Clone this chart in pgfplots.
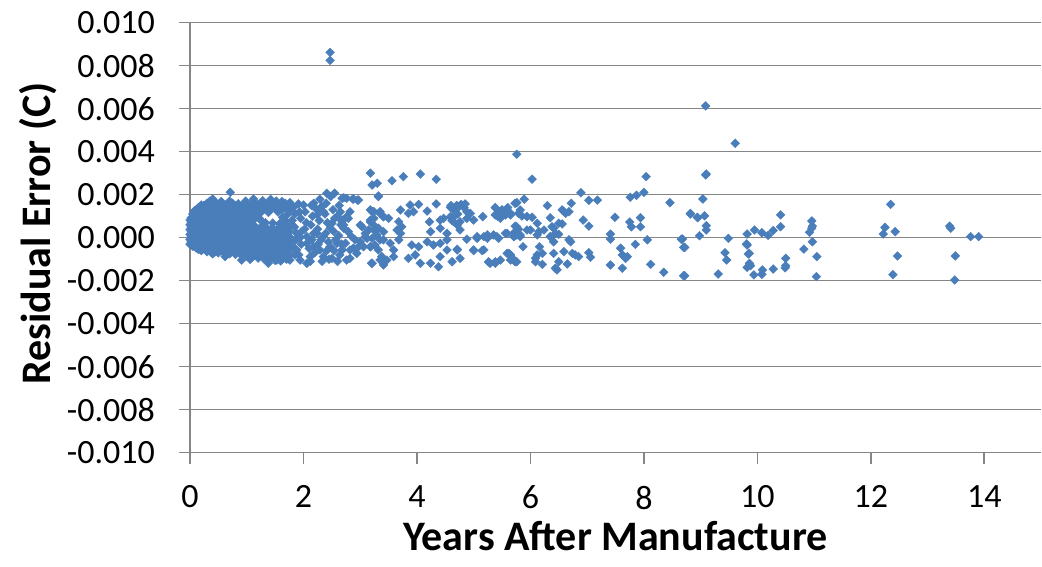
\documentclass[border=0pt]{standalone}
\usepackage{fontspec}
\setmainfont{Carlito}
\usepackage{pgfplots}
\pgfplotsset{compat=1.18}
\definecolor{gridgray}{RGB}{134,134,134}
\definecolor{markblue}{RGB}{74,126,187}
\newcommand\tickfont{\fontsize{34pt}{37pt}\selectfont}
\newcommand\labelfont{\fontsize{42pt}{46pt}\selectfont\bfseries}
\pgfplotsset{resid/.style={only marks, mark=square*, mark size=3.1pt,
  mark options={rotate=45, draw=markblue, fill=markblue, line width=0.4pt}}}
\begin{document}
\begin{tikzpicture}
\useasboundingbox (0,0) rectangle (1042pt,567pt);
\begin{axis}[
  at={(190pt,114.3pt)}, anchor=south west,
  scale only axis, width=851pt, height=430pt,
  xmin=0, xmax=15, ymin=-0.01, ymax=0.01,
  clip=false,
  axis x line=bottom, axis y line=left,
  axis line style={-, draw=gridgray, line width=1.6pt},
  xtick={0,2,4,6,8,10,12,14},
  xticklabels={0,2,4,6,8,10,12,14},
  ytick={-0.01,-0.008,-0.006,-0.004,-0.002,0,0.002,0.004,0.006,0.008,0.01},
  yticklabels={-0.010,-0.008,-0.006,-0.004,-0.002,0.000,0.002,0.004,0.006,0.008,0.010},
  scaled y ticks=false, scaled x ticks=false,
  tick align=outside, major tick length=11pt,
  tick style={draw=gridgray, line width=1.6pt},
  ymajorgrids, major grid style={draw=gridgray, line width=1.6pt},
  ticklabel style={font=\tickfont, inner sep=0pt},
  yticklabel style={anchor=east},
  xticklabel style={anchor=north},
  yticklabel shift=24pt, xticklabel shift=22pt,
  xlabel={Years After Manufacture},
  ylabel={Residual Error (C)},
  xlabel style={font=\labelfont, at={(axis description cs:0.5,-0.2263)}, anchor=base},
  ylabel style={font=\labelfont, at={(axis description cs:-0.1645,0.51)}, anchor=base},
]
% dense cluster of young units
\addplot[resid] coordinates {
(0.00,-0.0003)(0.00,-0.00008)(0.00,0.00015)(0.00,0.00038)(0.00,0.0006)(0.00,0.00082)
(0.02,-0.0002)(0.02,0.00003)(0.02,0.00027)(0.02,0.0005)(0.02,0.00072)(0.02,0.00092)
(0.05,-0.0004)(0.05,-0.00018)(0.05,0.00005)(0.05,0.00028)(0.05,0.0005)(0.05,0.00073)(0.05,0.00095)(0.05,0.0011)
(0.08,-0.00028)(0.08,-0.00005)(0.08,0.00018)(0.08,0.0004)(0.08,0.00063)(0.08,0.00085)(0.08,0.00108)(0.08,0.00125)
(0.11,-0.00048)(0.11,-0.00025)(0.11,-0.00002)(0.11,0.0002)(0.11,0.00043)(0.11,0.00066)(0.11,0.00088)(0.11,0.0011)(0.11,0.0013)
(0.15,-0.00055)(0.15,-0.00035)(0.15,-0.00012)(0.15,0.0001)(0.15,0.00033)(0.15,0.00055)(0.15,0.00078)(0.15,0.001)(0.15,0.00122)(0.15,0.0014)
(0.20,-0.0006)(0.20,-0.0004)(0.20,-0.0002)(0.20,0.00002)(0.20,0.00025)(0.20,0.00047)(0.20,0.0007)(0.20,0.00092)(0.20,0.00115)(0.20,0.00137)(0.20,0.00152)
(0.25,-0.00052)(0.25,-0.0003)(0.25,-0.00008)(0.25,0.00015)(0.25,0.00037)(0.25,0.0006)(0.25,0.00082)(0.25,0.00105)(0.25,0.00127)(0.25,0.0015)
(0.30,-0.00065)(0.30,-0.00042)(0.30,-0.0002)(0.30,0.00003)(0.30,0.00025)(0.30,0.00048)(0.30,0.0007)(0.30,0.00093)(0.30,0.00115)(0.30,0.00138)(0.30,0.0016)
(0.35,-0.00058)(0.35,-0.00035)(0.35,-0.00012)(0.35,0.0001)(0.35,0.00033)(0.35,0.00055)(0.35,0.00078)(0.35,0.001)(0.35,0.00123)(0.35,0.00145)(0.35,0.0017)
(0.40,-0.00075)(0.40,-0.0005)(0.40,-0.00028)(0.40,-0.00005)(0.40,0.00018)(0.40,0.0004)(0.40,0.00063)(0.40,0.00085)(0.40,0.00108)(0.40,0.0013)(0.40,0.00153)(0.40,0.0018)
(0.45,-0.00065)(0.45,-0.0004)(0.45,-0.00018)(0.45,0.00005)(0.45,0.00028)(0.45,0.0005)(0.45,0.00073)(0.45,0.00095)(0.45,0.00118)(0.45,0.0014)(0.45,0.00165)
(0.50,-0.0007)(0.50,-0.00048)(0.50,-0.00025)(0.50,-0.00002)(0.50,0.0002)(0.50,0.00043)(0.50,0.00065)(0.50,0.00088)(0.50,0.0011)(0.50,0.00133)(0.50,0.00155)
(0.55,-0.0006)(0.55,-0.00035)(0.55,-0.00012)(0.55,0.0001)(0.55,0.00033)(0.55,0.00055)(0.55,0.00078)(0.55,0.001)(0.55,0.00123)(0.55,0.00145)(0.55,0.00168)
(0.60,-0.00068)(0.60,-0.00045)(0.60,-0.00022)(0.60,0.0)(0.60,0.00023)(0.60,0.00045)(0.60,0.00068)(0.60,0.0009)(0.60,0.00113)(0.60,0.00135)(0.60,0.00155)
(0.65,-0.00055)(0.65,-0.00032)(0.65,-0.0001)(0.65,0.00013)(0.65,0.00035)(0.65,0.00058)(0.65,0.0008)(0.65,0.00103)(0.65,0.00125)(0.65,0.00148)
(0.70,-0.00075)(0.70,-0.00052)(0.70,-0.0003)(0.70,-0.00007)(0.70,0.00015)(0.70,0.00038)(0.70,0.0006)(0.70,0.00083)(0.70,0.00105)(0.70,0.00128)(0.70,0.0015)(0.70,0.0017)
(0.75,-0.00062)(0.75,-0.0004)(0.75,-0.00017)(0.75,0.00005)(0.75,0.00028)(0.75,0.0005)(0.75,0.00073)(0.75,0.00095)(0.75,0.00118)(0.75,0.0014)(0.75,0.0016)
(0.80,-0.00078)(0.80,-0.00055)(0.80,-0.00033)(0.80,-0.0001)(0.80,0.00012)(0.80,0.00035)(0.80,0.00057)(0.80,0.0008)(0.80,0.00102)(0.80,0.00125)(0.80,0.00147)
(0.85,-0.00065)(0.85,-0.00042)(0.85,-0.0002)(0.85,0.00003)(0.85,0.00025)(0.85,0.00048)(0.85,0.0007)(0.85,0.00093)(0.85,0.00115)(0.85,0.00138)(0.85,0.00158)
(0.90,-0.0008)(0.90,-0.00058)(0.90,-0.00035)(0.90,-0.00013)(0.90,0.0001)(0.90,0.00032)(0.90,0.00055)(0.90,0.00077)(0.90,0.001)(0.90,0.00122)(0.90,0.00145)
(0.95,-0.00068)(0.95,-0.00045)(0.95,-0.00022)(0.95,0.0)(0.95,0.00023)(0.95,0.00045)(0.95,0.00068)(0.95,0.0009)(0.95,0.00113)(0.95,0.00135)(0.95,0.00155)
(1.00,-0.00085)(1.00,-0.00062)(1.00,-0.0004)(1.00,-0.00017)(1.00,0.00005)(1.00,0.00028)(1.00,0.0005)(1.00,0.00073)(1.00,0.00095)(1.00,0.00118)(1.00,0.0014)
(1.05,-0.00072)(1.05,-0.0005)(1.05,-0.00027)(1.05,-0.00005)(1.05,0.00018)(1.05,0.0004)(1.05,0.00063)(1.05,0.00085)(1.05,0.0013)(1.05,0.00152)
(1.10,-0.0009)(1.10,-0.00068)(1.10,-0.00045)(1.10,-0.00023)(1.10,0.0)(1.10,0.00022)(1.10,0.00045)(1.10,0.00062)(1.10,0.00132)(1.10,0.00152)(1.10,0.0016)
(1.15,-0.00078)(1.15,-0.00055)(1.15,-0.00033)(1.15,-0.0001)(1.15,0.00012)(1.15,0.00035)(1.15,0.00052)(1.15,0.00138)(1.15,0.00158)
(1.20,-0.00095)(1.20,-0.00072)(1.20,-0.0005)(1.20,-0.00027)(1.20,-0.00005)(1.20,0.00018)(1.20,0.0004)(1.20,0.00135)(1.20,0.00155)
(1.25,-0.00082)(1.25,-0.0006)(1.25,-0.00037)(1.25,-0.00015)(1.25,0.00008)(1.25,0.0003)(1.25,0.00048)(1.25,0.0014)(1.25,0.0016)
(1.30,-0.00098)(1.30,-0.00075)(1.30,-0.00053)(1.30,-0.0003)(1.30,-0.00008)(1.30,0.00015)(1.30,0.00037)(1.30,0.00135)(1.30,0.0015)
(1.35,-0.00085)(1.35,-0.00062)(1.35,-0.0004)(1.35,-0.00017)(1.35,0.00005)(1.35,0.00028)(1.35,0.00045)(1.35,0.0014)(1.35,0.00155)
(1.40,-0.001)(1.40,-0.00078)(1.40,-0.00055)(1.40,-0.00033)(1.40,-0.0001)(1.40,0.00012)(1.40,0.00035)(1.40,0.00138)(1.40,0.00152)
(1.45,-0.00088)(1.45,-0.00065)(1.45,-0.00043)(1.45,-0.0002)(1.45,0.00003)(1.45,0.00025)(1.45,0.00045)(1.45,0.0014)(1.45,0.00158)
(1.50,-0.00105)(1.50,-0.00082)(1.50,-0.0006)(1.50,-0.00037)(1.50,-0.00015)(1.50,0.00008)(1.50,0.0003)(1.50,0.00135)(1.50,0.0015)
(1.55,-0.0009)(1.55,-0.00068)(1.55,-0.00045)(1.55,-0.00023)(1.55,0.0)(1.55,0.00022)(1.55,0.00042)(1.55,0.0014)
(1.60,-0.00108)(1.60,-0.00085)(1.60,-0.00062)(1.60,-0.0004)(1.60,-0.00017)(1.60,0.00005)(1.60,0.00028)(1.60,0.0013)(1.60,0.00148)
(1.65,-0.00095)(1.65,-0.00072)(1.65,-0.0005)(1.65,-0.00027)(1.65,-0.00005)(1.65,0.00018)(1.65,0.0004)(1.65,0.00135)(1.65,0.00152)
(1.70,-0.001)(1.70,-0.00078)(1.70,-0.00055)(1.70,-0.00033)(1.70,-0.0001)(1.70,0.00012)(1.70,0.00035)(1.70,0.0006)(1.70,0.0014)
(1.75,-0.00085)(1.75,-0.00062)(1.75,-0.0004)(1.75,-0.00017)(1.75,0.00005)(1.75,0.00028)(1.75,0.0005)(1.75,0.00125)
(1.08,0.00105)(1.13,0.00085)(1.17,0.0011)(1.22,0.0009)(1.27,0.00075)(1.24,0.00115)(1.33,0.0007)(1.38,0.00118)
(1.46,0.00068)(1.55,0.0012)(1.58,0.00065)(1.63,0.00095)(1.68,0.0008)(1.72,0.00108)
(0.98,0.0017)(1.12,0.0018)(1.28,0.00172)(1.42,0.00178)(1.52,0.0017)(1.62,0.00168)
(0.71,0.00211)(0.91,-0.00104)(1.06,-0.00101)(0.62,-0.00088)(0.41,-0.00057)(0.74,-0.00057)(1.29,-0.00088)(1.38,-0.00119)
};
% transition region, 1.5 to 3.5 years
\addplot[resid] coordinates {
(2.47,0.00862)(2.47,0.00825)
(2.41,0.00207)(2.55,0.00207)(2.48,0.00191)(2.68,0.00183)(2.76,0.00183)(2.87,0.0018)(2.97,0.00175)
(2.29,0.00179)(2.18,0.0016)(2.21,0.00137)(2.32,0.00144)(2.35,0.00121)(2.24,0.00106)
(1.68,0.0016)(1.76,0.00163)(1.91,0.00157)(2.0,0.00152)(1.56,0.00152)
(2.82,0.00121)(2.79,0.0009)(2.68,0.00082)(2.71,0.00059)(2.59,0.00098)(2.5,0.00067)(2.47,0.00044)
(3.0,0.00059)(3.15,0.00036)(3.21,-0.00003)(3.09,0.00005)
(3.18,0.00129)(3.21,0.00245)(3.3,0.00253)(3.32,0.00191)(3.24,0.00121)(3.35,0.00113)(3.41,0.00098)(3.18,0.00082)
(3.18,0.003)(3.56,0.00265)(3.76,0.00284)(4.06,0.00296)(4.34,0.00272)
(1.88,0.0002)(2.06,0.00005)(2.24,0.0002)(2.35,0.00005)(2.06,-0.00026)(2.18,-0.00042)(2.29,-0.00057)(2.47,-0.00042)
(2.59,-0.00026)(2.68,-0.00057)(2.82,-0.00057)(2.94,-0.00073)(2.35,-0.00088)(2.5,-0.00096)(2.82,-0.00096)(3.18,-0.00042)
(3.21,-0.00119)(3.35,-0.00104)(3.41,-0.00127)
(1.76,-0.00104)(1.94,-0.00104)(2.06,-0.00119)(2.12,-0.00088)(1.88,-0.00057)(1.65,-0.00073)(1.53,-0.00104)(1.71,-0.00042)
(1.82,0.0014)(1.85,0.0011)(1.80,0.0008)(1.84,0.0005)(1.86,-0.0001)(1.81,-0.0004)(1.85,-0.0008)
(1.93,0.0012)(1.95,0.0009)(1.97,0.0003)(1.94,0.0)(1.96,-0.0003)(1.92,-0.0008)
(2.03,0.0012)(2.05,0.0007)(2.02,0.0004)(2.10,-0.0005)
(2.14,0.0015)(2.16,0.001)(2.13,0.0006)(2.18,0.0002)(2.15,-0.0001)(2.20,-0.0007)(2.12,-0.0011)
(2.27,0.0013)(2.28,0.0008)(2.25,0.0004)(2.31,-0.0001)(2.26,-0.0003)(2.33,-0.0011)
(2.40,0.0016)(2.38,0.0011)(2.42,0.0007)(2.39,0.0002)(2.44,-0.0002)(2.41,-0.0006)(2.45,-0.001)
(2.52,0.0013)(2.55,0.0009)(2.53,0.0003)(2.57,-0.0001)(2.54,-0.0006)(2.60,-0.0011)
(2.63,0.0015)(2.65,0.0012)(2.66,0.0006)(2.62,0.0001)(2.67,-0.0003)(2.64,-0.0008)
(2.71,0.00186)(2.88,0.0018)(2.95,0.00175)(2.76,0.00098)(2.68,0.00074)(2.71,0.00044)(2.79,0.00028)(2.85,0.00005)
(2.91,-0.0001)(2.74,-0.00026)(2.68,-0.00057)(2.88,-0.00049)(2.97,-0.00042)(2.76,-0.00104)(3.2,-0.00119)
(3.03,0.00051)(3.09,0.0002)(3.12,-0.00003)(3.0,-0.00019)(3.06,-0.00042)(3.24,0.00036)(3.29,0.00013)(3.35,-0.0001)(3.26,-0.00034)
};
% 3 to 6 years
\addplot[resid] coordinates {
(3.32,0.00194)(3.88,0.00152)(4.03,0.00155)(4.34,0.00157)(4.59,0.00141)(4.74,0.00144)(4.85,0.00157)
(3.71,0.00129)(3.85,0.00113)(3.94,0.00121)(3.21,0.00121)(3.35,0.00121)(3.24,0.0009)(3.41,0.00098)(3.5,0.0009)
(4.18,0.00124)(4.22,0.00074)(4.41,0.00082)(4.47,0.0009)
(4.59,0.00098)(4.65,0.00074)(4.76,0.00074)(4.88,0.0009)(4.94,0.00113)(5.0,0.00082)
(5.16,0.00098)(5.38,0.00106)(5.47,0.0009)(5.56,0.00106)(5.65,0.00113)(5.73,0.0016)
(3.68,0.00074)(3.73,0.00051)(3.65,0.00036)(3.71,0.0002)
(3.18,0.00074)(3.24,0.00059)(3.32,0.00044)(3.41,0.00028)
(4.24,0.00028)(4.41,0.00044)(4.53,0.0002)(4.71,0.00059)(4.76,0.00036)
(5.06,-0.00003)(5.18,0.00005)(5.24,-0.00003)(5.35,0.00013)(5.44,-0.00003)(5.59,0.0002)(5.71,0.00023)(5.76,0.00013)
(4.88,-0.00007)
(3.41,-0.0001)(3.53,-0.00026)(3.59,-0.00057)(3.68,-0.0001)
(3.91,-0.00034)(4.03,-0.00042)(4.18,-0.00019)(4.29,-0.00034)(4.41,-0.00026)(4.53,-0.0001)
(3.18,-0.00042)(3.32,-0.00057)(3.38,-0.00088)(3.47,-0.00104)(3.59,-0.00088)
(3.85,-0.00096)(3.97,-0.0008)(4.06,-0.00119)(4.24,-0.00119)(4.38,-0.00135)(4.41,-0.00088)(4.53,-0.00057)(4.71,-0.00054)
(5.0,-0.00057)(5.18,-0.00057)(5.26,-0.00112)(5.38,-0.00119)(5.47,-0.00104)(5.59,-0.00073)(5.71,-0.00104)
(4.60,0.0015)(4.65,0.00128)(4.70,0.0015)(4.78,0.00155)(4.83,0.0014)(4.88,0.0012)(4.66,0.001)(4.72,0.0011)(4.62,0.0008)
(5.38,0.0014)(5.45,0.0012)(5.5,0.0013)(5.55,0.0012)(5.6,0.0014)(5.42,0.001)
(4.62,-0.00112)(4.71,-0.00057)(4.76,-0.00096)(5.0,-0.0006)(5.15,-0.0006)(5.29,-0.00119)(5.38,-0.00112)(5.62,-0.00073)(5.73,-0.00112)(5.65,-0.00104)
(5.06,0.00005)(5.24,0.00013)(5.41,0.00005)(5.56,0.0002)(5.71,0.00005)(5.76,0.00051)(5.82,0.00013)(5.94,0.00036)
};
% 5.5 to 9 years
\addplot[resid] coordinates {
(5.76,0.00388)(6.03,0.00272)(8.04,0.00284)(6.89,0.00209)(8.0,0.00211)(7.87,0.00197)(7.76,0.00188)(7.03,0.00174)(7.18,0.00175)
(8.46,0.00163)(5.89,0.00179)(5.76,0.00163)(6.3,0.00149)(6.72,0.0016)
(5.82,0.00129)(5.79,0.00113)(5.85,0.00101)(5.94,0.00098)(6.03,0.00095)
(6.56,0.00129)(6.62,0.00113)(6.68,0.00121)(6.59,0.00121)
(6.35,0.00093)(6.5,0.00067)(6.56,0.00064)(6.38,0.00051)(6.41,0.00044)
(6.93,0.00082)(7.03,0.00054)
(7.49,0.00095)(7.75,0.00073)(7.78,0.00051)(7.94,0.00093)(7.94,0.00051)
(5.65,0.00106)(5.73,0.00054)(5.79,0.00039)
(6.0,0.00036)(6.12,0.00067)(6.15,0.00028)(6.24,0.00036)(6.35,0.00005)
(5.71,0.00005)(5.82,0.00005)(6.12,0.00013)(6.44,0.0002)(6.5,0.00016)
(6.41,-0.00019)(6.68,-0.0001)(6.71,-0.00019)
(7.41,0.00017)(7.41,-0.00007)
(8.06,-0.0001)(8.66,-0.00007)(8.7,-0.00045)
(5.87,-0.00042)(6.16,-0.00042)
(5.65,-0.0008)(5.71,-0.00104)(5.76,-0.00112)(6.09,-0.00096)(6.12,-0.0008)(6.21,-0.00073)(6.41,-0.00073)(6.59,-0.00065)
(6.74,-0.00073)(6.79,-0.0008)(6.85,-0.00088)(7.03,-0.0007)(7.06,-0.00091)(7.59,-0.00049)(7.62,-0.0008)(7.68,-0.00096)(7.71,-0.00088)(7.85,-0.00031)
(6.09,-0.00112)(6.21,-0.00124)(6.44,-0.00142)(6.47,-0.0015)(6.5,-0.00112)(6.65,-0.00122)(7.41,-0.00127)(7.62,-0.00142)
(8.12,-0.00124)(8.35,-0.00161)(8.7,-0.00177)
};
% older units, 8.5 years and beyond
\addplot[resid] coordinates {
(9.09,0.00613)(9.61,0.00439)(9.09,0.00292)(9.1,0.00296)(9.04,0.0018)
(8.82,0.00113)(8.95,0.00093)(9.07,0.00102)(9.1,0.00056)(9.1,0.00036)(8.98,0.00009)
(8.68,-0.00006)(8.72,-0.00045)
(9.49,-0.00003)(9.43,-0.0007)(9.46,-0.00104)
(9.82,0.00017)(9.95,0.00036)(10.08,0.00023)(10.19,0.00011)(10.28,0.00033)(10.41,0.00051)(10.41,0.00106)
(9.81,-0.00029)(9.82,-0.00034)(9.86,-0.00073)(9.84,-0.00076)(9.86,-0.00119)(9.82,-0.00138)(9.88,-0.0013)
(9.94,-0.00173)(10.08,-0.0017)(10.09,-0.0015)(10.28,-0.00146)
(9.31,-0.00169)(8.72,-0.00177)
(10.5,-0.00096)(10.5,-0.0013)(10.49,-0.0014)
(10.82,-0.00053)
(10.96,0.00078)(10.97,0.00054)(10.96,0.00044)(10.92,0.00025)(10.97,-0.00019)
(11.05,-0.00088)(11.04,-0.00181)
(12.35,0.00155)(12.25,0.00048)(12.22,0.00017)(12.43,0.00028)(12.47,-0.00085)(12.39,-0.00172)
(13.39,0.00054)(13.41,0.00044)(13.49,-0.00085)(13.48,-0.00197)(13.76,0.00005)(13.9,0.00005)
(8.94,0.00095)(8.82,0.0011)
};
\end{axis}
\end{tikzpicture}
\end{document}
